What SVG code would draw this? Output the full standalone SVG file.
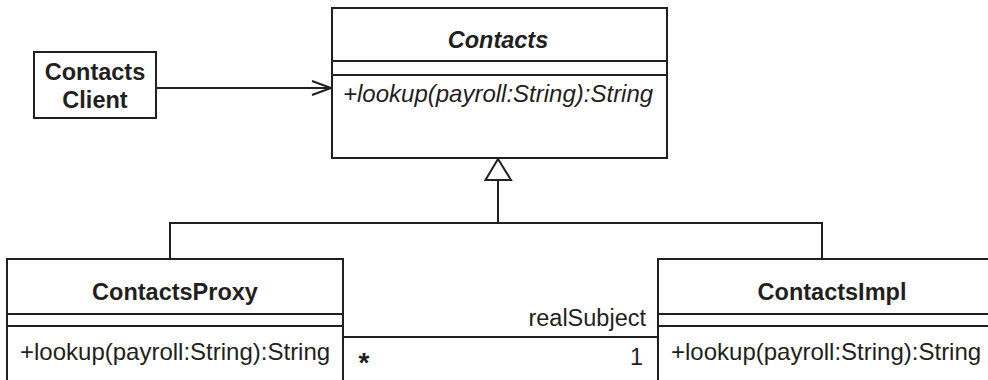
<svg xmlns="http://www.w3.org/2000/svg" width="988" height="380" viewBox="0 0 988 380">
<style>
.box{fill:#fff;stroke:#231f20;stroke-width:2}
.ln{fill:none;stroke:#231f20;stroke-width:2}
text{font-family:"Liberation Sans",Arial,sans-serif;font-size:23.5px;fill:#231f20}
.b{font-weight:bold}
.i{font-style:italic}
.c{text-anchor:middle}
.r{text-anchor:end}
.m{font-size:24px}
</style>
<defs>
<marker id="open" markerUnits="userSpaceOnUse" markerWidth="24" markerHeight="20" refX="20" refY="8" orient="auto" viewBox="0 0 24 16">
<path d="M1,1 L20,8 L1,15" fill="none" stroke="#231f20" stroke-width="2"/>
</marker>
</defs>
<g id="connectors">
<line class="ln" x1="156" y1="88" x2="331" y2="88" marker-end="url(#open)"/>
<polygon points="498,159 485.5,180 511,180" fill="#fff" stroke="#231f20" stroke-width="2"/>
<polyline class="ln" points="498,180 498,223"/>
<polyline class="ln" points="170,259 170,223 822,223 822,259"/>
<line class="ln" x1="343" y1="337" x2="658" y2="337"/>
<text x="646" y="326" class="r">realSubject</text>
<text x="643" y="365" class="r">1</text>
<text x="364" y="372" class="c b" style="font-size:28px">*</text>
</g>
<g id="client">
<rect class="box" x="34" y="52" width="122" height="66"/>
<text x="95" y="80" class="c b">Contacts</text>
<text x="95" y="108" class="c b">Client</text>
</g>
<g id="contacts">
<rect class="box" x="332" y="8" width="335" height="150"/>
<line class="ln" x1="332" y1="61" x2="667" y2="61"/>
<line class="ln" x1="332" y1="75" x2="667" y2="75"/>
<text x="498" y="48" class="c b i">Contacts</text>
<text x="343" y="102" class="i m">+lookup(payroll:String):String</text>
</g>
<g id="proxy">
<rect class="box" x="7" y="259" width="336" height="140"/>
<line class="ln" x1="7" y1="314" x2="343" y2="314"/>
<line class="ln" x1="7" y1="326" x2="343" y2="326"/>
<text x="175" y="300" class="c b">ContactsProxy</text>
<text x="20" y="360" class="m">+lookup(payroll:String):String</text>
</g>
<g id="impl">
<rect class="box" x="658" y="259" width="340" height="140"/>
<line class="ln" x1="658" y1="314" x2="998" y2="314"/>
<line class="ln" x1="658" y1="326" x2="998" y2="326"/>
<text x="832" y="300" class="c b">ContactsImpl</text>
<text x="671" y="360" class="m">+lookup(payroll:String):String</text>
</g>
</svg>
